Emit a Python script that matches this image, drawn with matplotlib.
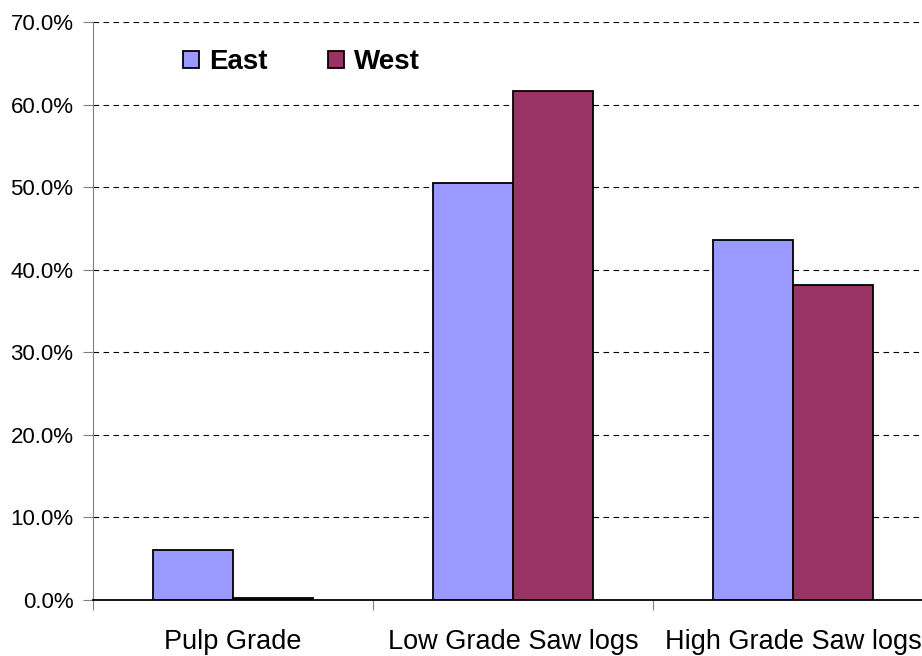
import numpy as np
import matplotlib.pyplot as plt
from matplotlib.ticker import FuncFormatter, FixedLocator

plt.rcParams['font.family'] = ['Liberation Sans', 'DejaVu Sans']

# data
categories = ['Pulp Grade', 'Low Grade Saw logs', 'High Grade Saw logs']
east = [6.05, 50.5, 43.6]
west = [0.2, 61.6, 38.1]
series_names = ['East', 'West']
y_ticks = [0, 10, 20, 30, 40, 50, 60, 70]

east_color = '#9999FF'
west_color = '#993366'

fig = plt.figure(figsize=(9.22, 6.56), dpi=100)
# axes runs past the right edge like the original (last category cut off)
ax = fig.add_axes([93 / 922, 56 / 656, 840 / 922, 578 / 656])

x = np.arange(len(categories))
w = 0.2857
ax.bar(x - w / 2, east, w, color=east_color, edgecolor='black', linewidth=1.3, label=series_names[0], zorder=3)
ax.bar(x + w / 2, west, w, color=west_color, edgecolor='black', linewidth=1.3, label=series_names[1], zorder=3)

ax.set_xlim(-0.5, len(categories) - 0.5)
ax.set_ylim(0, 70)
ax.set_yticks(y_ticks)
ax.yaxis.set_major_formatter(FuncFormatter(lambda v, p: f'{v:.1f}%'))
ax.grid(axis='y', color='black', linestyle=(0, (5, 4)), linewidth=0.8, zorder=0)

# category labels between boundary ticks
ax.xaxis.set_major_locator(FixedLocator(np.arange(-0.5, len(categories), 1.0)))
ax.xaxis.set_minor_locator(FixedLocator(x))
ax.set_xticklabels([''] * (len(categories) + 1))
ax.set_xticklabels(categories, minor=True, fontsize=19.5)
ax.tick_params(axis='x', which='minor', length=0, pad=21)
ax.tick_params(axis='x', which='major', length=7, color='#808080', direction='out')
ax.tick_params(axis='y', length=7, color='#808080', labelsize=16, pad=7)

for s in ['top', 'right']:
    ax.spines[s].set_visible(False)
ax.spines['left'].set_color('#808080')
ax.spines['bottom'].set_color('black')
ax.spines['bottom'].set_linewidth(1.3)
ax.spines['bottom'].set_zorder(4)

leg = ax.legend(ncol=2, frameon=False, loc='center left', bbox_to_anchor=(183 / 922, 0.905),
                bbox_transform=fig.transFigure, prop={'weight': 'bold', 'size': 20},
                borderaxespad=0, borderpad=0,
                handlelength=0.58, handleheight=0.58, handletextpad=0.36, columnspacing=2.16)

fig.savefig('out.png', dpi=100)
